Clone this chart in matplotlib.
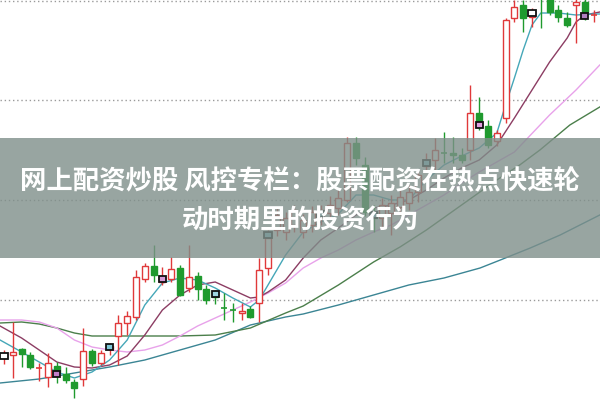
import matplotlib
matplotlib.use("Agg")
import matplotlib.pyplot as plt
from matplotlib.patches import Rectangle

# ---------------- data (prices) ----------------
opens  = [9.44, 9.45, 9.51, 9.45, 9.32, 9.23, 9.34, 9.26, 9.18, 9.21,
          9.49, 9.37, 9.51, 9.64, 9.77, 9.83, 10.21, 10.34, 10.18, 10.21,
          10.32, 10.12, 10.24, 10.11, 10.08, 9.93, 9.91, 9.87, 9.91, 9.97,
          10.32, 10.70, 10.68, 10.75, 10.68, 10.75, 10.82, 10.87, 10.92, 11.00,
          11.57, 11.35, 10.88, 10.82, 10.87, 10.93, 10.97, 11.08, 11.34, 11.40,
          11.48, 11.47, 11.45, 11.50, 11.87, 11.74, 11.59, 11.82, 12.82, 12.95,
          12.83, 13.15, 13.03, 12.90, 12.82, 12.95, 12.98, 12.85]
closes = [9.45, 9.48, 9.46, 9.33, 9.33, 9.37, 9.28, 9.20, 9.12, 9.49,
          9.37, 9.47, 9.54, 9.77, 9.84, 10.23, 10.34, 10.25, 10.23, 10.31,
          10.05, 10.23, 10.11, 10.00, 10.03, 9.91, 9.89, 9.89, 9.83, 10.30,
          10.62, 10.85, 10.82, 10.90, 10.80, 10.88, 10.90, 10.95, 11.02, 11.57,
          11.42, 10.88, 10.82, 10.95, 10.97, 11.03, 11.08, 11.25, 11.40, 11.50,
          11.46, 11.45, 11.40, 11.87, 11.73, 11.55, 11.67, 12.80, 12.93, 12.82,
          12.89, 13.02, 12.88, 12.83, 12.75, 12.98, 12.88, 12.86]
highs  = [9.50, 9.78, 9.52, 9.48, 9.37, 9.47, 9.38, 9.33, 9.21, 9.72,
          9.51, 9.50, 9.57, 9.85, 9.89, 10.30, 10.37, 10.55, 10.33, 10.43,
          10.35, 10.55, 10.28, 10.15, 10.10, 10.07, 9.97, 9.97, 9.94, 10.42,
          10.70, 10.92, 10.88, 10.95, 10.86, 10.94, 10.95, 11.04, 11.10, 11.63,
          11.63, 11.43, 10.95, 11.02, 11.05, 11.10, 11.15, 11.30, 11.47, 11.62,
          11.68, 11.63, 11.52, 12.15, 12.03, 11.80, 11.70, 12.82, 13.00, 13.00,
          12.92, 13.20, 13.08, 12.95, 12.88, 13.05, 13.03, 12.90]
lows   = [9.36, 9.22, 9.33, 9.31, 9.19, 9.13, 9.17, 9.17, 9.02, 9.14,
          9.34, 9.35, 9.45, 9.35, 9.65, 9.80, 10.18, 10.18, 10.15, 10.18,
          10.04, 10.08, 10.00, 9.96, 9.96, 9.80, 9.78, 9.80, 9.82, 9.78,
          10.25, 10.64, 10.60, 10.68, 10.62, 10.68, 10.75, 10.82, 10.85, 10.98,
          11.35, 10.84, 10.68, 10.72, 10.65, 10.85, 10.90, 10.98, 11.30, 11.30,
          11.37, 11.37, 11.37, 11.40, 11.70, 11.52, 11.54, 11.77, 12.78, 12.68,
          12.73, 12.72, 12.85, 12.78, 12.73, 12.57, 12.80, 12.78]

mark_idx    = [0, 6, 12, 18, 24, 30, 36, 42, 48, 54, 60, 66]
mark_price  = [9.44, 9.26, 9.53, 10.21, 10.06, 10.65, 10.86, 10.85, 11.37, 11.75, 12.87, 12.84]
mark_colors = ["#ffffff", "#c27fc9", "#7fc8d8", "#d79ad8", "#9fd6e0", "#7fc8d8",
               "#7fc8d8", "#7fc8d8", "#7fc8d8", "#e0a0e0", "#ffffff", "#b07fc0"]

ma5_x = [-0.45, 2, 4, 6, 8, 10, 12, 14, 16, 18, 20, 22, 24, 26, 28, 29, 30, 32, 34, 36,
         38, 40, 42, 44, 46, 48, 50, 52, 54, 56, 57, 58, 59, 60, 61, 63, 65, 67, 67.7]
ma5_y = [9.60, 9.48, 9.38, 9.28, 9.22, 9.28, 9.40, 9.60, 9.95, 10.17, 10.22, 10.20, 10.12,
         10.02, 9.93, 10.00, 10.15, 10.45, 10.68, 10.78, 10.86, 11.05, 11.05, 11.00, 11.00,
         11.20, 11.35, 11.44, 11.52, 11.67, 11.95, 12.22, 12.50, 12.75, 12.87, 12.87, 12.85,
         12.86, 12.86]

ma10_x = [-0.45, 2, 4, 6, 8, 10, 12, 14, 16, 18, 20, 22, 24, 26, 28, 29, 30, 32, 34, 36,
          38, 40, 42, 44, 46, 48, 50, 52, 54, 56, 58, 60, 62, 64, 65, 66, 67.7]
ma10_y = [9.74, 9.62, 9.50, 9.38, 9.33, 9.32, 9.35, 9.44, 9.65, 9.90, 10.05, 10.15, 10.18,
          10.10, 10.02, 10.03, 10.08, 10.20, 10.42, 10.60, 10.72, 10.85, 10.92, 10.95, 11.00,
          11.10, 11.22, 11.32, 11.40, 11.55, 11.82, 12.10, 12.38, 12.62, 12.78, 12.85, 12.88]

ma20_x = [-0.45, 2, 4, 6, 8, 10, 12, 14, 16, 18, 20, 22, 24, 26, 28, 30, 32, 34, 36, 38,
          40, 42, 44, 46, 48, 50, 52, 54, 56, 58, 62, 65, 67.7]
ma20_y = [9.80, 9.80, 9.78, 9.72, 9.60, 9.53, 9.50, 9.48, 9.50, 9.55, 9.64, 9.74, 9.82,
          9.90, 9.98, 10.07, 10.17, 10.32, 10.42, 10.50, 10.60, 10.68, 10.75, 10.85, 10.95,
          11.05, 11.17, 11.28, 11.38, 11.48, 11.85, 12.10, 12.35]

ma30_x = [-0.45, 2, 4, 6, 8, 10, 12, 16, 20, 24, 28, 32, 34, 38, 42, 45, 48, 52, 56, 58.6,
          60.9, 64.3, 67.7]
ma30_y = [9.77, 9.78, 9.76, 9.72, 9.67, 9.64, 9.64, 9.64, 9.64, 9.65, 9.72, 9.87, 9.94,
          10.15, 10.38, 10.53, 10.70, 10.95, 11.20, 11.35, 11.50, 11.75, 11.93]

ma60_x = [-0.45, 4, 8, 12, 16, 20, 24, 28, 32, 34, 38, 42, 46, 50, 54.1, 56.4, 59.8, 63.2, 67.7]
ma60_y = [9.17, 9.21, 9.27, 9.33, 9.40, 9.50, 9.60, 9.75, 9.83, 9.86, 9.95, 10.05, 10.15,
          10.22, 10.32, 10.40, 10.52, 10.65, 10.85]

grid_levels = [12.99, 12.0, 11.0, 10.0]
title_line1 = "网上配资炒股 风控专栏：股票配资在热点快速轮"
title_line2 = "动时期里的投资行为"

# ---------------- drawing ----------------
plt.rcParams['font.family'] = ['Noto Sans CJK SC', 'DejaVu Sans']
fig = plt.figure(figsize=(6.0, 3.99), dpi=100)
ax = fig.add_axes([0, 0, 1, 1])
ax.set_xlim(-0.4545, 67.727)
ax.set_ylim(9.01, 13.0)
ax.axis('off')

for g in grid_levels:
    ax.axhline(g, color='#9a9a9a', lw=1.0, linestyle=(0, (1, 2)), zorder=1)

RED = '#e0393a'
GREEN = '#1f9a2e'
bw = 0.68
for i, (o, c, h, l) in enumerate(zip(opens, closes, highs, lows)):
    up = c >= o
    col = RED if up else GREEN
    ax.vlines(i, l, h, color=col, lw=1.0, zorder=3)
    lo_b, hi_b = min(o, c), max(o, c)
    if hi_b - lo_b < 0.02:
        ax.hlines((o + c) / 2, i - bw / 2, i + bw / 2, color=col, lw=1.2, zorder=4)
    else:
        ax.add_patch(Rectangle((i - bw / 2, lo_b), bw, hi_b - lo_b,
                               facecolor='white' if up else col, edgecolor=col,
                               lw=1.0, zorder=4))

for mi, mp, mc in zip(mark_idx, mark_price, mark_colors):
    ax.add_patch(Rectangle((mi - 0.42, mp - 0.03), 0.84, 0.06,
                           facecolor=mc, edgecolor='#111111', lw=1.3, zorder=5))

ax.plot(ma60_x, ma60_y, color='#3b8594', lw=1.0, zorder=2)
ax.plot(ma30_x, ma30_y, color='#4b7f4b', lw=1.0, zorder=2)
ax.plot(ma20_x, ma20_y, color='#e8a2ea', lw=1.0, zorder=2)
ax.plot(ma10_x, ma10_y, color='#8c3d63', lw=1.0, zorder=2)
ax.plot(ma5_x, ma5_y, color='#45a7b8', lw=1.0, zorder=2)

# banner
ax.axhspan(10.42, 11.62, facecolor='#7f8f8a', alpha=0.8, lw=0, zorder=10)
ax.text(0.5, 1 - 182 / 399, title_line1, transform=ax.transAxes, ha='center', va='center',
        color='white', fontsize=19, fontweight='bold', zorder=11)
ax.text(0.5, 1 - 221 / 399, title_line2, transform=ax.transAxes, ha='center', va='center',
        color='white', fontsize=19, fontweight='bold', zorder=11)

fig.savefig('out.png', dpi=100)
